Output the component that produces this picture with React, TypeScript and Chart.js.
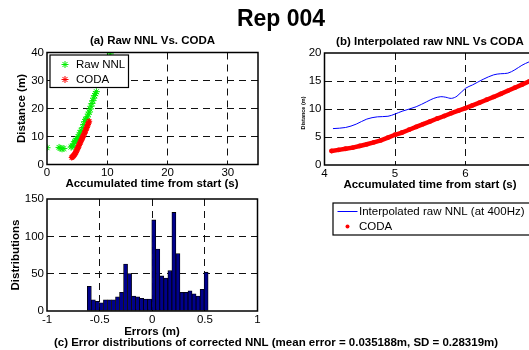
import React, { useEffect, useRef } from "react";
import { Chart, registerables } from "chart.js";

Chart.register(...registerables);

const FONT = '"Liberation Sans", Arial, Helvetica, sans-serif';

// Raw NNL distance estimates: time (s) and distance (m)
const rawNnlTime = [0.0, 2.0, 2.2, 2.5, 2.8, 4.0, 4.15, 4.3, 4.45, 4.6, 4.75, 4.9, 5.05, 5.2, 5.35, 5.5, 5.65, 5.8, 5.95, 6.1, 6.25, 6.4, 6.55, 6.7, 6.85, 7.0, 7.15, 7.3, 7.45, 7.6, 7.75, 7.9, 8.05, 8.2, 10.5];
const rawNnlDist = [6.0, 6.1, 5.8, 5.6, 5.7, 6.2, 6.5, 6.7, 7.3, 8.2, 8.6, 8.7, 9.3, 9.9, 10.6, 11.3, 12.2, 11.9, 13.2, 14.3, 15.3, 16.1, 16.3, 17.0, 18.0, 18.7, 19.8, 20.8, 21.8, 22.8, 23.7, 24.6, 25.3, 26.0, 39.5];

// CODA reference distance
const codaTime = [4.1, 4.2, 4.3, 4.4, 4.5, 4.6, 4.7, 4.8, 4.9, 5.0, 5.1, 5.2, 5.3, 5.4, 5.5, 5.6, 5.7, 5.8, 5.9, 6.0, 6.1, 6.2, 6.3, 6.4, 6.5, 6.6, 6.7, 6.8, 6.9, 7.0];
const codaDist = [2.5, 2.7, 2.9, 3.1, 3.4, 3.7, 4.05, 4.4, 4.9, 5.4, 5.8, 6.3, 6.8, 7.3, 7.8, 8.3, 8.75, 9.25, 9.7, 10.15, 10.65, 11.15, 11.65, 12.15, 12.7, 13.25, 13.8, 14.35, 14.9, 15.45];

// Raw NNL resampled at 400 Hz
const interpTime = [4.12, 4.3, 4.45, 4.6, 4.75, 4.9, 5.0, 5.1, 5.3, 5.45, 5.55, 5.65, 5.72, 5.8, 5.88, 6.0, 6.1, 6.25, 6.4, 6.5, 6.6, 6.7, 6.8, 6.9, 7.0];
const interpDist = [6.5, 6.7, 7.3, 8.2, 8.6, 8.7, 9.1, 9.6, 10.4, 11.3, 11.9, 12.2, 12.1, 11.9, 12.3, 13.7, 14.3, 15.3, 16.1, 16.3, 16.4, 17.0, 17.8, 18.4, 18.8];

// Error histogram of corrected NNL: 30 equal bins between these limits (m)
const errorBinLow = -0.617;
const errorBinHigh = 0.531;
const errorCounts = [33, 15, 13, 11, 15, 15, 15, 19, 25, 63, 50, 20, 19, 17, 16, 16, 122, 83, 47, 44, 54, 132, 77, 25, 25, 27, 23, 20, 29, 52];

// Tick values and labels
const ticksAX = [0, 10, 20, 30];
const labelsAX = ["0", "10", "20", "30"];
const ticksAY = [0, 10, 20, 30, 40];
const labelsAY = ["0", "10", "20", "30", "40"];
const ticksBX = [4, 5, 6, 7];
const labelsBX = ["4", "5", "6", "7"];
const ticksBY = [0, 5, 10, 15, 20];
const labelsBY = ["0", "5", "10", "15", "20"];
const ticksCX = [-1, -0.5, 0, 0.5, 1];
const labelsCX = ["-1", "-0.5", "0", "0.5", "1"];
const ticksCY = [0, 50, 100, 150];
const labelsCY = ["0", "50", "100", "150"];

const toPoints = (xs: number[], ys: number[]) => xs.map((x, i) => ({ x, y: ys[i] }));

// Fixed sizes of the scale boxes, so plot areas land where the padding says
const Y_AXIS_W = 40;
const X_AXIS_H = 30;

function areaPadding(l: number, t: number, r: number, b: number, canvasW: number) {
  return { left: l - Y_AXIS_W, top: t, right: canvasW - r, bottom: 350 - b - X_AXIS_H };
}

type Txt = { text: string; x: number; y: number; size: number; bold?: boolean; rot?: boolean };

function textPlugin(id: string, items: Txt[]) {
  return {
    id,
    afterDraw(chart: any) {
      const ctx = chart.ctx as CanvasRenderingContext2D;
      ctx.save();
      ctx.fillStyle = "#000";
      ctx.textAlign = "center";
      ctx.textBaseline = "middle";
      for (const t of items) {
        ctx.font = `${t.bold ? "bold " : ""}${t.size}px ${FONT}`;
        ctx.save();
        ctx.translate(t.x, t.y);
        if (t.rot) ctx.rotate(-Math.PI / 2);
        ctx.fillText(t.text, 0, 0);
        ctx.restore();
      }
      ctx.restore();
    },
  };
}

// Full axes box drawn over the data
const framePlugin = {
  id: "frame",
  afterDatasetsDraw(chart: any) {
    const { ctx, chartArea: a } = chart;
    ctx.save();
    ctx.strokeStyle = "#000";
    ctx.lineWidth = 1.5;
    ctx.strokeRect(a.left, a.top, a.right - a.left, a.bottom - a.top);
    ctx.restore();
  },
};

type Mark = "star" | "line" | "dot";
type LegendRow = { label: string; mark: Mark; color: string };

function drawMark(ctx: CanvasRenderingContext2D, mark: Mark, x: number, y: number, color: string) {
  ctx.save();
  ctx.strokeStyle = color;
  ctx.fillStyle = color;
  if (mark === "star") {
    const r = 3.5;
    const d = r * 0.72;
    ctx.lineWidth = 1;
    ctx.beginPath();
    ctx.moveTo(x - r, y); ctx.lineTo(x + r, y);
    ctx.moveTo(x, y - r); ctx.lineTo(x, y + r);
    ctx.moveTo(x - d, y - d); ctx.lineTo(x + d, y + d);
    ctx.moveTo(x - d, y + d); ctx.lineTo(x + d, y - d);
    ctx.stroke();
  } else if (mark === "line") {
    ctx.lineWidth = 1;
    ctx.beginPath();
    ctx.moveTo(x - 10, y); ctx.lineTo(x + 10, y);
    ctx.stroke();
  } else {
    ctx.beginPath();
    ctx.arc(x, y, 2, 0, Math.PI * 2);
    ctx.fill();
  }
  ctx.restore();
}

function legendPlugin(id: string, box: { x: number; y: number; w: number; h: number }, rows: LegendRow[], rowY: number[], markX: number, textX: number) {
  return {
    id,
    afterDraw(chart: any) {
      const ctx = chart.ctx as CanvasRenderingContext2D;
      ctx.save();
      ctx.fillStyle = "#fff";
      ctx.fillRect(box.x, box.y, box.w, box.h);
      ctx.strokeStyle = "#000";
      ctx.lineWidth = 1.2;
      ctx.strokeRect(box.x, box.y, box.w, box.h);
      ctx.font = `11.5px ${FONT}`;
      ctx.textAlign = "left";
      ctx.textBaseline = "middle";
      rows.forEach((r, i) => {
        drawMark(ctx, r.mark, markX, rowY[i], r.color);
        ctx.fillStyle = "#000";
        ctx.fillText(r.label, textX, rowY[i]);
      });
      ctx.restore();
    },
  };
}

function makeAxis(min: number, max: number, ticks: number[], labels: string[], position: "bottom" | "left") {
  const horizontal = position === "bottom";
  return {
    type: "linear" as const,
    position,
    min,
    max,
    offset: false,
    afterBuildTicks: (s: any) => {
      s.ticks = ticks.map((v) => ({ value: v }));
    },
    afterFit: (s: any) => {
      if (horizontal) s.height = X_AXIS_H;
      else s.width = Y_AXIS_W;
    },
    ticks: {
      callback: (_v: any, i: number) => labels[i],
      font: { family: FONT, size: 11.5 },
      color: "#000",
      padding: horizontal ? 1.5 : 3,
      autoSkip: false,
      maxRotation: 0,
    },
    grid: {
      offset: false,
      drawTicks: false,
      lineWidth: 1,
      color: (c: any) => (c.tick && (c.tick.value === min || c.tick.value === max) ? "rgba(0,0,0,0)" : "#111"),
    },
    border: { display: false, dash: [7, 5] },
  };
}

const baseOptions = {
  responsive: false,
  animation: false as const,
  devicePixelRatio: 1,
  events: [] as any[],
  plugins: { legend: { display: false }, tooltip: { enabled: false } },
};

function buildA(canvas: HTMLCanvasElement) {
  return new Chart(canvas, {
    type: "scatter",
    data: {
      datasets: [
        {
          label: "Raw NNL",
          data: toPoints(rawNnlTime, rawNnlDist),
          pointStyle: "star",
          pointRadius: 3.5,
          pointBorderWidth: 1,
          borderColor: "#00ee00",
          backgroundColor: "#00ee00",
          order: 2,
        },
        {
          label: "CODA",
          data: toPoints(codaTime, codaDist),
          pointStyle: "star",
          pointRadius: 3,
          pointBorderWidth: 1.2,
          borderColor: "#ff0000",
          backgroundColor: "#ff0000",
          order: 1,
        },
      ],
    },
    options: {
      ...baseOptions,
      layout: { padding: areaPadding(47, 52.5, 258, 164.5, 529) },
      scales: {
        x: makeAxis(0, 35, ticksAX, labelsAX, "bottom"),
        y: makeAxis(0, 40, ticksAY, labelsAY, "left"),
      },
    } as any,
    plugins: [
      framePlugin,
      legendPlugin(
        "legendA",
        { x: 50, y: 55, w: 78.5, h: 32.5 },
        [
          { label: "Raw NNL", mark: "star", color: "#00ee00" },
          { label: "CODA", mark: "star", color: "#ff0000" },
        ],
        [64.5, 79.5],
        65,
        76
      ),
      textPlugin("textsA", [
        { text: "Rep 004", x: 281, y: 20, size: 23, bold: true },
        { text: "(a) Raw NNL Vs. CODA", x: 152.5, y: 40.5, size: 11.5, bold: true },
        { text: "Accumulated time from start (s)", x: 152, y: 183.5, size: 11.5, bold: true },
        { text: "Distance (m)", x: 21.5, y: 108.5, size: 11.5, bold: true, rot: true },
      ]),
    ],
  });
}

function buildB(canvas: HTMLCanvasElement) {
  return new Chart(canvas, {
    type: "scatter",
    data: {
      datasets: [
        {
          label: "Interpolated raw NNL (at 400Hz)",
          data: toPoints(interpTime, interpDist),
          showLine: true,
          tension: 0.35,
          borderColor: "#0000ff",
          borderWidth: 1,
          pointRadius: 0,
          order: 2,
        },
        {
          label: "CODA",
          data: toPoints(codaTime, codaDist),
          showLine: true,
          borderColor: "#ff0000",
          backgroundColor: "#ff0000",
          borderWidth: 4.5,
          borderCapStyle: "round",
          pointRadius: 2.4,
          pointBorderWidth: 0,
          order: 1,
        },
      ],
    },
    options: {
      ...baseOptions,
      layout: { padding: areaPadding(324.5, 53, 536, 165, 560) },
      scales: {
        x: makeAxis(4, 7, ticksBX, labelsBX, "bottom"),
        y: makeAxis(0, 20, ticksBY, labelsBY, "left"),
      },
    } as any,
    plugins: [
      framePlugin,
      legendPlugin(
        "legendB",
        { x: 333, y: 203, w: 210, h: 32 },
        [
          { label: "Interpolated raw NNL (at 400Hz)", mark: "line", color: "#0000ff" },
          { label: "CODA", mark: "dot", color: "#ff0000" },
        ],
        [211.5, 226.5],
        347.5,
        359
      ),
      textPlugin("textsB", [
        { text: "(b) Interpolated raw NNL Vs CODA", x: 430, y: 41.5, size: 11.5, bold: true },
        { text: "Accumulated time from start (s)", x: 430, y: 185, size: 11.5, bold: true },
        { text: "Distance (m)", x: 303.5, y: 113, size: 5.5, bold: true, rot: true },
      ]),
    ],
  });
}

function buildC(canvas: HTMLCanvasElement) {
  const binWidth = (errorBinHigh - errorBinLow) / errorCounts.length;
  const bars = errorCounts.map((n, i) => ({ x: errorBinLow + binWidth * (i + 0.5), y: n }));
  return new Chart(canvas, {
    type: "bar",
    data: {
      datasets: [
        {
          label: "Errors",
          data: bars,
          backgroundColor: "#00008c",
          borderColor: "#000000",
          borderWidth: 0.8,
          borderSkipped: false,
          barPercentage: 1,
          categoryPercentage: 1,
        },
      ],
    },
    options: {
      ...baseOptions,
      layout: { padding: areaPadding(47, 199, 257.5, 311, 529) },
      scales: {
        x: makeAxis(-1, 1, ticksCX, labelsCX, "bottom"),
        y: makeAxis(0, 150, ticksCY, labelsCY, "left"),
      },
    } as any,
    plugins: [
      framePlugin,
      textPlugin("textsC", [
        { text: "Distributions", x: 16, y: 255, size: 11.5, bold: true, rot: true },
        { text: "Errors (m)", x: 152, y: 331.5, size: 11.5, bold: true },
        {
          text: "(c) Error distributions of corrected NNL (mean error = 0.035188m, SD = 0.28319m)",
          x: 276,
          y: 342.5,
          size: 11.5,
          bold: true,
        },
      ]),
    ],
  });
}

const canvasStyle = (w: number): React.CSSProperties => ({
  position: "absolute",
  left: 0,
  top: 0,
  width: w,
  height: 350,
});

export default function App() {
  const refA = useRef<HTMLCanvasElement>(null);
  const refB = useRef<HTMLCanvasElement>(null);
  const refC = useRef<HTMLCanvasElement>(null);

  useEffect(() => {
    const charts = [buildA(refA.current!), buildB(refB.current!), buildC(refC.current!)];
    return () => charts.forEach((c) => c.destroy());
  }, []);

  return (
    <div
      style={{
        position: "fixed",
        left: 0,
        top: 0,
        width: 529,
        height: 350,
        overflow: "hidden",
        background: "#fff",
      }}
    >
      <canvas ref={refA} width={529} height={350} style={canvasStyle(529)} />
      <canvas ref={refB} width={560} height={350} style={canvasStyle(560)} />
      <canvas ref={refC} width={529} height={350} style={canvasStyle(529)} />
    </div>
  );
}
